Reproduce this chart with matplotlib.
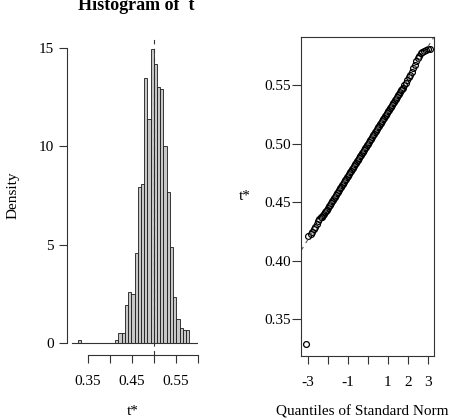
import matplotlib

matplotlib.use("Agg")
import matplotlib.pyplot as plt

# histogram of bootstrap replicates t* (density scale)
histBinLeft = [
    0.3270, 0.4120, 0.4193, 0.4266, 0.4339, 0.4412, 0.4485, 0.4558, 0.4631, 0.4704,
    0.4777, 0.4850, 0.4923, 0.4996, 0.5069, 0.5142, 0.5215, 0.5288, 0.5361, 0.5434,
    0.5507, 0.5580, 0.5653, 0.5726,
]
histDensity = [
    0.19, 0.17, 0.54, 0.54, 1.93, 2.60, 2.49, 4.60, 7.93, 8.10,
    13.45, 11.40, 14.94, 14.16, 13.00, 12.90, 10.00, 7.70, 4.90, 2.37,
    1.23, 0.80, 0.68, 0.68,
]
histBinWidth = 0.0073
observedT = 0.5002

histXTicks = [0.35, 0.40, 0.45, 0.50, 0.55, 0.60]
histXTickLabels = ["0.35", "", "0.45", "", "0.55", ""]
histYTicks = [0, 5, 10, 15]

# normal QQ plot of t*
qqTheoretical = [
    -3.09, -2.97, -2.85, -2.78, -2.70, -2.62, -2.55, -2.48, -2.42, -2.36,
    -2.30, -2.25, -2.20, -2.15, -2.10, -2.05, -2.00, -1.95, -1.90, -1.85,
    -1.80, -1.75, -1.70, -1.65, -1.60, -1.55, -1.50, -1.45, -1.40, -1.35,
    -1.30, -1.25, -1.20, -1.15, -1.10, -1.05, -1.00, -0.95, -0.90, -0.85,
    -0.80, -0.75, -0.70, -0.65, -0.60, -0.55, -0.50, -0.45, -0.40, -0.35,
    -0.30, -0.25, -0.20, -0.15, -0.10, -0.05, 0.00, 0.05, 0.10, 0.15,
    0.20, 0.25, 0.30, 0.35, 0.40, 0.45, 0.50, 0.55, 0.60, 0.65,
    0.70, 0.75, 0.80, 0.85, 0.90, 0.95, 1.00, 1.05, 1.10, 1.15,
    1.20, 1.25, 1.30, 1.35, 1.40, 1.45, 1.50, 1.55, 1.60, 1.65,
    1.70, 1.75, 1.82, 1.90, 1.97, 2.05, 2.12, 2.20, 2.28, 2.35,
    2.43, 2.50, 2.58, 2.65, 2.72, 2.80, 2.90, 3.00, 3.10,
]
qqSample = [
    0.3286, 0.4210, 0.4225, 0.4245, 0.4270, 0.4290, 0.4310, 0.4335, 0.4355, 0.4370,
    0.4375, 0.4386, 0.4399, 0.4412, 0.4424, 0.4437, 0.4451, 0.4465, 0.4479, 0.4493,
    0.4507, 0.4520, 0.4534, 0.4548, 0.4562, 0.4575, 0.4589, 0.4603, 0.4617, 0.4631,
    0.4644, 0.4658, 0.4672, 0.4686, 0.4699, 0.4713, 0.4727, 0.4741, 0.4754, 0.4768,
    0.4782, 0.4796, 0.4809, 0.4823, 0.4837, 0.4851, 0.4864, 0.4878, 0.4892, 0.4906,
    0.4919, 0.4933, 0.4947, 0.4961, 0.4974, 0.4988, 0.5002, 0.5016, 0.5029, 0.5043,
    0.5057, 0.5071, 0.5084, 0.5098, 0.5112, 0.5126, 0.5139, 0.5153, 0.5167, 0.5181,
    0.5194, 0.5208, 0.5222, 0.5236, 0.5249, 0.5263, 0.5277, 0.5291, 0.5304, 0.5318,
    0.5332, 0.5346, 0.5359, 0.5373, 0.5387, 0.5401, 0.5414, 0.5428, 0.5442, 0.5456,
    0.5469, 0.5475, 0.5500, 0.5520, 0.5545, 0.5570, 0.5590, 0.5615, 0.5645, 0.5670,
    0.5705, 0.5730, 0.5755, 0.5775, 0.5785, 0.5795, 0.5805, 0.5810, 0.5815,
]
qqLineIntercept = 0.5002
qqLineSlope = 0.0275

qqXTicks = [-3, -2, -1, 0, 1, 2, 3]
qqXTickLabels = ["-3", "", "-1", "", "1", "2", "3"]
qqYTicks = [0.35, 0.40, 0.45, 0.50, 0.55]


def main() -> None:
    plt.rcParams["font.family"] = ["Liberation Serif", "DejaVu Serif"]
    plt.rcParams["font.size"] = 11
    axisColor = "0.2"

    fig = plt.figure(figsize=(4.49, 4.20), dpi=100)
    histAx = fig.add_axes([0.1492, 0.1548, 0.2918, 0.7595])
    qqAx = fig.add_axes([0.6704, 0.1531, 0.2969, 0.7595])

    # left panel: histogram
    histAx.bar(
        histBinLeft,
        histDensity,
        width=histBinWidth,
        align="edge",
        facecolor="0.78",
        edgecolor="0.1",
        linewidth=0.6,
    )
    histAx.axhline(0, xmin=0.04, xmax=0.99, color=axisColor, linewidth=0.8)
    histAx.axvline(observedT, color="0.2", linewidth=0.8, linestyle=(0, (4, 4)))
    histAx.set_xlim(0.3023, 0.600)
    histAx.set_ylim(-0.594, 15.6)
    for side in ["top", "right"]:
        histAx.spines[side].set_visible(False)
    histAx.spines["left"].set_bounds(0, 15)
    histAx.spines["bottom"].set_bounds(0.35, 0.60)
    for side in ["left", "bottom"]:
        histAx.spines[side].set_color(axisColor)
        histAx.spines[side].set_linewidth(0.8)
    histAx.set_xticks(histXTicks)
    histAx.set_xticklabels(histXTickLabels)
    histAx.set_yticks(histYTicks)
    histAx.tick_params(axis="y", length=5.8, width=0.8, pad=3.6, color=axisColor)
    histAx.tick_params(axis="x", length=5.5, width=0.8, pad=9.0, color=axisColor)
    histAx.set_ylabel("Density", labelpad=14)
    histAx.set_xlabel("t*", labelpad=12)
    fig.text(0.303, 1 - 10 / 420, "Histogram of  t", ha="center", va="baseline",
             fontsize=13, fontweight="bold")

    # right panel: normal QQ plot
    qqAx.plot(
        qqTheoretical,
        qqSample,
        linestyle="none",
        marker="o",
        markersize=4.2,
        markerfacecolor="none",
        markeredgecolor="black",
        markeredgewidth=0.9,
    )
    qqAx.axline((0, qqLineIntercept), slope=qqLineSlope, color="0.35", linewidth=0.8,
                linestyle=(0, (4, 4)))
    qqAx.set_xlim(-3.335, 3.33)
    qqAx.set_ylim(0.3186, 0.5916)
    for side in qqAx.spines.values():
        side.set_color(axisColor)
        side.set_linewidth(0.8)
    qqAx.set_xticks(qqXTicks)
    qqAx.set_xticklabels(qqXTickLabels)
    qqAx.set_yticks(qqYTicks)
    qqAx.set_yticklabels([f"{v:.2f}" for v in qqYTicks])
    qqAx.tick_params(axis="y", length=6.5, width=0.8, pad=1.0, color=axisColor)
    qqAx.tick_params(axis="x", length=5.5, width=0.8, pad=9.0, color=axisColor)
    qqAx.set_xlabel("Quantiles of Standard Normal", labelpad=12)
    qqAx.set_ylabel("t*", rotation=0, labelpad=14, va="center")

    fig.savefig("out.png", dpi=100)


if __name__ == "__main__":
    main()
